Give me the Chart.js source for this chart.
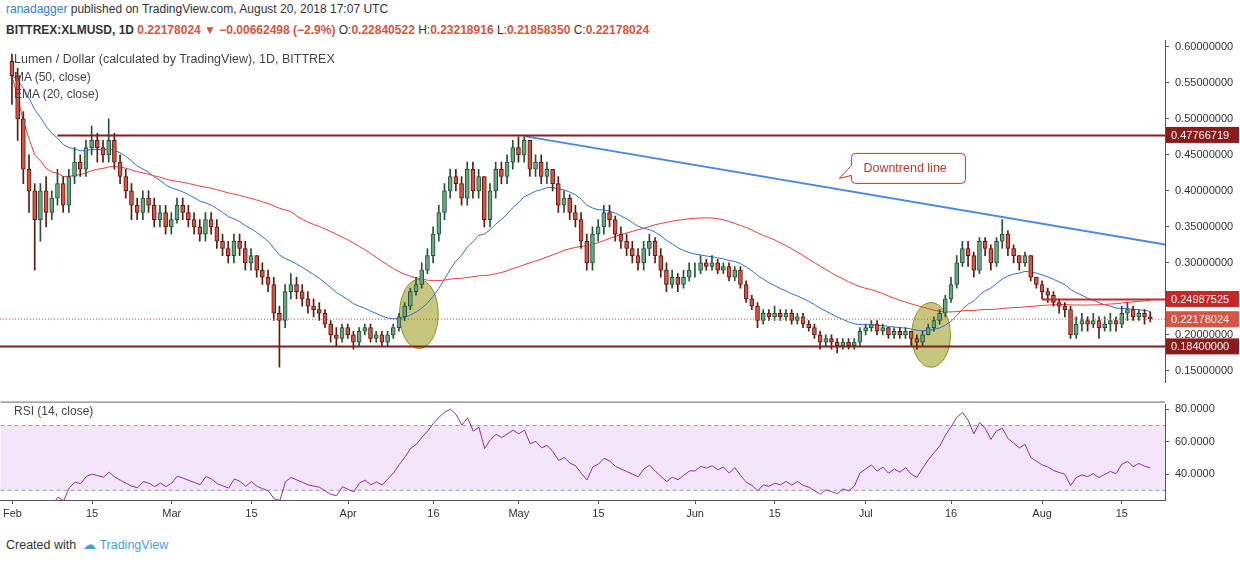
<!DOCTYPE html>
<html>
<head>
<meta charset="utf-8">
<script src="https://cdn.jsdelivr.net/npm/chart.js@4.4.0/dist/chart.umd.min.js"></script>
<style>
  body { margin: 0; width: 1240px; height: 562px; background: #fff; font-family: Arial, "Liberation Sans", sans-serif; position: relative; overflow: hidden; }
  .txt { position: absolute; font-size: 12px; color: #333; white-space: nowrap; }
  .red { color: #d75442; }
  canvas { position: absolute; left: 0; }
</style>
</head>
<body>
<div class="txt" style="left:6px;top:2px;"><span style="color:#2d7fd6">ranadagger</span> published on TradingView.com, August 20, 2018 17:07 UTC</div>
<div class="txt" style="left:6px;top:23px;font-weight:bold;">BITTREX:XLMUSD, 1D <span class="red">0.22178024 ▼ −0.00662498 (−2.9%)</span> <span style="font-weight:normal">O:</span><span class="red">0.22840522</span> <span style="font-weight:normal">H:</span><span class="red">0.23218916</span> <span style="font-weight:normal">L:</span><span class="red">0.21858350</span> <span style="font-weight:normal">C:</span><span class="red">0.22178024</span></div>
<canvas id="main" width="1240" height="395" style="top:0"></canvas>
<canvas id="rsi" width="1240" height="135" style="top:392px"></canvas>
<div class="txt" style="left:14px;top:52px;font-size:12.5px;color:#444;">Lumen / Dollar (calculated by TradingView), 1D, BITTREX</div>
<div class="txt" style="left:14px;top:70px;color:#444;">MA (50, close)</div>
<div class="txt" style="left:14px;top:87px;color:#444;">EMA (20, close)</div>
<div class="txt" style="left:14px;top:404px;color:#444;">RSI (14, close)</div>
<div class="txt" style="left:6px;top:537px;color:#333;font-size:12.5px;">Created with &nbsp;<span style="color:#4a9ee0">&#9729;</span> <span style="color:#4a9ee0">TradingView</span></div>
<script>
// daily candles Feb 1 .. Aug 20 2018, open = previous close
const firstOpen = 0.58;
const closes = [
  0.56,0.50,0.43,0.40,0.36,0.40,0.37,0.39,0.41,0.38,0.42,0.44,0.43,0.46,0.47,0.46,0.45,0.47,0.44,0.42,0.40,0.38,0.37,0.39,0.38,0.36,0.37,0.35,
  0.36,0.38,0.37,0.36,0.35,0.34,0.36,0.35,0.33,0.32,0.31,0.33,0.32,0.30,0.31,0.29,0.28,0.27,0.23,0.22,0.26,0.27,0.26,0.25,0.24,0.235,0.23,0.215,0.20,0.195,0.21,
  0.20,0.19,0.205,0.21,0.195,0.20,0.19,0.20,0.21,0.225,0.24,0.26,0.27,0.29,0.31,0.34,0.37,0.40,0.42,0.41,0.39,0.43,0.40,0.42,0.36,0.40,0.43,0.42,0.44,0.46,
  0.45,0.47,0.43,0.44,0.42,0.43,0.41,0.38,0.39,0.37,0.36,0.33,0.30,0.34,0.35,0.37,0.36,0.34,0.33,0.32,0.31,0.30,0.32,0.33,0.31,0.29,0.27,0.28,0.27,0.28,0.29,
  0.29,0.30,0.295,0.30,0.29,0.295,0.28,0.29,0.27,0.25,0.24,0.22,0.23,0.225,0.23,0.225,0.23,0.22,0.225,0.215,0.21,0.20,0.19,0.195,0.19,0.185,0.19,0.185,0.19,0.205,
  0.21,0.215,0.205,0.21,0.20,0.205,0.20,0.205,0.195,0.19,0.20,0.21,0.22,0.23,0.25,0.27,0.30,0.32,0.31,0.29,0.33,0.32,0.30,0.33,0.34,0.32,0.31,0.30,0.31,0.28,0.27,
  0.26,0.255,0.245,0.24,0.235,0.20,0.215,0.22,0.215,0.22,0.21,0.215,0.22,0.215,0.23,0.235,0.225,0.23,0.225,0.222
];
const highs = [
  0.59,0.57,0.51,0.45,0.41,0.41,0.42,0.40,0.43,0.42,0.43,0.46,0.45,0.47,0.49,0.48,0.47,0.50,0.48,0.45,0.43,0.41,0.39,0.40,0.40,0.39,0.38,0.38,
  0.37,0.39,0.39,0.38,0.37,0.36,0.37,0.37,0.36,0.34,0.33,0.34,0.34,0.33,0.32,0.31,0.30,0.29,0.28,0.24,0.27,0.285,0.28,0.27,0.26,0.25,0.245,0.235,0.22,0.21,0.215,
  0.215,0.205,0.21,0.215,0.215,0.205,0.205,0.205,0.215,0.23,0.245,0.265,0.28,0.30,0.32,0.35,0.38,0.41,0.43,0.43,0.42,0.44,0.44,0.43,0.42,0.41,0.44,0.44,0.45,0.47,
  0.475,0.475,0.47,0.45,0.45,0.44,0.43,0.42,0.40,0.395,0.38,0.37,0.34,0.35,0.36,0.38,0.38,0.365,0.35,0.34,0.33,0.32,0.33,0.34,0.335,0.32,0.30,0.29,0.285,0.29,0.30,
  0.30,0.31,0.305,0.31,0.305,0.30,0.30,0.295,0.295,0.275,0.255,0.245,0.235,0.235,0.24,0.235,0.235,0.235,0.23,0.23,0.22,0.215,0.205,0.20,0.20,0.195,0.195,0.195,0.195,0.21,
  0.215,0.22,0.22,0.215,0.21,0.21,0.21,0.21,0.205,0.20,0.205,0.215,0.225,0.235,0.255,0.28,0.31,0.33,0.33,0.315,0.335,0.335,0.325,0.335,0.36,0.345,0.325,0.31,0.315,0.31,0.28,
  0.275,0.265,0.26,0.25,0.245,0.24,0.225,0.23,0.225,0.23,0.225,0.225,0.23,0.225,0.24,0.245,0.24,0.235,0.235,0.232
];
const lows = [
  0.52,0.47,0.41,0.37,0.29,0.33,0.35,0.36,0.38,0.37,0.37,0.41,0.42,0.42,0.45,0.44,0.44,0.44,0.43,0.41,0.39,0.36,0.36,0.36,0.37,0.35,0.35,0.34,
  0.34,0.355,0.36,0.35,0.34,0.33,0.33,0.34,0.32,0.31,0.30,0.30,0.31,0.29,0.29,0.28,0.27,0.26,0.22,0.155,0.21,0.25,0.25,0.24,0.23,0.225,0.22,0.21,0.19,0.185,0.19,
  0.195,0.18,0.185,0.20,0.19,0.19,0.185,0.185,0.195,0.205,0.22,0.235,0.255,0.265,0.285,0.30,0.33,0.36,0.39,0.40,0.38,0.38,0.39,0.39,0.35,0.35,0.39,0.41,0.41,0.43,
  0.44,0.44,0.42,0.42,0.41,0.41,0.40,0.37,0.37,0.36,0.35,0.32,0.29,0.29,0.33,0.34,0.35,0.33,0.32,0.31,0.30,0.29,0.29,0.31,0.30,0.28,0.26,0.265,0.26,0.265,0.275,
  0.28,0.285,0.29,0.29,0.285,0.285,0.275,0.275,0.265,0.245,0.235,0.21,0.215,0.22,0.22,0.22,0.22,0.215,0.215,0.21,0.205,0.195,0.18,0.185,0.18,0.175,0.18,0.18,0.18,0.185,
  0.20,0.205,0.20,0.20,0.195,0.195,0.195,0.195,0.185,0.18,0.185,0.20,0.205,0.215,0.225,0.245,0.265,0.295,0.295,0.28,0.285,0.31,0.29,0.295,0.32,0.31,0.30,0.29,0.295,0.275,0.265,
  0.25,0.245,0.24,0.23,0.225,0.195,0.195,0.205,0.205,0.21,0.195,0.205,0.205,0.205,0.21,0.22,0.22,0.22,0.215,0.218
];
const priceTicks = [0.15,0.20,0.25,0.30,0.35,0.40,0.45,0.50,0.55,0.60];
const rsiTicks = [40,60,80];
const dateTicks = [[0,'Feb'],[14,'15'],[28,'Mar'],[42,'15'],[59,'Apr'],[74,'16'],[89,'May'],[103,'15'],[120,'Jun'],[134,'15'],[150,'Jul'],[165,'16'],[181,'Aug'],[195,'15']];
const levels = [
  {y:0.47766719, from:8,   bg:'#8b1a1a', line:'#8b1a1a', w:2},
  {y:0.24987525, from:181, bg:'#c62828', line:'#c62828', w:2},
  {y:0.18400000, from:-3,  bg:'#8b1a1a', line:'#8b1a1a', w:2}
];
const lastPrice = 0.22178024;
const trend = [{x:90, y:0.476}, {x:203, y:0.325}];
const ellipses = [{x:71.5, y:0.229, rx:3.4, ry:0.048}, {x:161.5, y:0.2, rx:3.4, ry:0.045}];

const X_MIN = -2.1, X_MAX = 202.6;
const opens = closes.map((c, i) => i === 0 ? firstOpen : closes[i - 1]);
const up = closes.map((c, i) => c >= opens[i]);

// indicators
const ma50 = closes.map((c, i) => {
  const s = closes.slice(Math.max(0, i - 49), i + 1);
  return {x:i, y:s.reduce((a, b) => a + b, 0) / s.length};
});
let e = closes[0];
const ema20 = closes.map((c, i) => { e = i === 0 ? c : e + (c - e) * 2 / 21; return {x:i, y:e}; });
let ag = 0, al = 0;
const rsi = [];
for (let i = 1; i < closes.length; i++) {
  const d = closes[i] - closes[i - 1];
  const g = Math.max(d, 0), l = Math.max(-d, 0);
  if (i <= 14) { ag += g / 14; al += l / 14; } else { ag = (ag * 13 + g) / 14; al = (al * 13 + l) / 14; }
  rsi.push({x:i, y: al === 0 ? 70 : 100 - 100 / (1 + ag / al)});
}

const annot = {
  id: 'annot',
  beforeDatasetsDraw(chart) {
    const {ctx, scales: {x, y}} = chart;
    ctx.save();
    ellipses.forEach(el => {
      const cx = x.getPixelForValue(el.x), cy = y.getPixelForValue(el.y);
      const rx = x.getPixelForValue(el.x + el.rx) - cx, ry = cy - y.getPixelForValue(el.y + el.ry);
      ctx.beginPath(); ctx.ellipse(cx, cy, rx, ry, 0, 0, Math.PI * 2);
      ctx.fillStyle = 'rgba(160,160,40,0.6)'; ctx.fill();
      ctx.strokeStyle = '#909020'; ctx.lineWidth = 1; ctx.stroke();
    });
    ctx.restore();
  },
  afterDatasetsDraw(chart) {
    const {ctx, chartArea: a, scales: {x, y}} = chart;
    ctx.save();
    levels.forEach(lv => {
      const py = Math.round(y.getPixelForValue(lv.y)) + 0.5;
      ctx.strokeStyle = lv.line; ctx.lineWidth = lv.w;
      ctx.beginPath(); ctx.moveTo(x.getPixelForValue(lv.from), py); ctx.lineTo(a.right, py); ctx.stroke();
    });
    const lp = y.getPixelForValue(lastPrice);
    ctx.setLineDash([1, 2]); ctx.strokeStyle = '#d75442'; ctx.lineWidth = 1;
    ctx.beginPath(); ctx.moveTo(a.left, lp); ctx.lineTo(a.right, lp); ctx.stroke();
    ctx.setLineDash([]);
    // callout
    const bx = x.getPixelForValue(147.5), by = y.getPixelForValue(0.452), bw = 114, bh = 30;
    ctx.fillStyle = '#fff'; ctx.strokeStyle = '#c0392b'; ctx.lineWidth = 1;
    ctx.beginPath();
    ctx.moveTo(bx + 4, by); ctx.lineTo(bx + bw - 4, by); ctx.quadraticCurveTo(bx + bw, by, bx + bw, by + 4);
    ctx.lineTo(bx + bw, by + bh - 4); ctx.quadraticCurveTo(bx + bw, by + bh, bx + bw - 4, by + bh);
    ctx.lineTo(bx + 4, by + bh); ctx.quadraticCurveTo(bx, by + bh, bx, by + bh - 4);
    ctx.lineTo(bx, by + 22); ctx.lineTo(bx - 12, by + 25); ctx.lineTo(bx, by + 12);
    ctx.lineTo(bx, by + 4); ctx.quadraticCurveTo(bx, by, bx + 4, by);
    ctx.fill(); ctx.stroke();
    ctx.fillStyle = '#c0392b'; ctx.font = '12.5px Arial'; ctx.textBaseline = 'middle';
    ctx.fillText('Downtrend line', bx + 12, by + bh / 2);
    ctx.font = '11px Arial';
    const tag = (v, bg) => {
      const py = y.getPixelForValue(v);
      ctx.fillStyle = bg; ctx.fillRect(a.right + 1, py - 8, 73, 16);
      ctx.fillStyle = '#fff'; ctx.fillText(v.toFixed(8), a.right + 6, py + 1);
    };
    tag(levels[0].y, levels[0].bg); tag(levels[1].y, levels[1].bg); tag(lastPrice, '#d75442'); tag(levels[2].y, levels[2].bg);
    ctx.restore();
  }
};

const fixedRight = {afterFit(s) { s.width = 75; }};
new Chart(document.getElementById('main'), {
  data: {
    datasets: [
      {type:'line', data:ma50, borderColor:'#ef3b3b', borderWidth:1, pointRadius:0, order:3},
      {type:'line', data:ema20, borderColor:'#2f6fdc', borderWidth:1, pointRadius:0, order:3},
      {type:'line', data:trend, borderColor:'#4a86e8', borderWidth:2, pointRadius:0, order:0},
      {type:'bar', data:closes.map((c, i) => ({x:i, y:[lows[i], highs[i]]})), barThickness:1,
       backgroundColor: up.map(u => u ? '#225437' : '#5b1a13'), order:2},
      {type:'bar', data:closes.map((c, i) => ({x:i, y:[opens[i], c]})), barThickness:4,
       backgroundColor: up.map(u => u ? '#6ba583' : '#d75442'),
       borderColor: up.map(u => u ? '#225437' : '#5b1a13'), borderWidth:1, borderSkipped:false, order:1}
    ]
  },
  options: {
    responsive:false, animation:false, events:[],
    layout:{padding:{top:40}},
    plugins:{legend:{display:false}, tooltip:{enabled:false}},
    datasets:{bar:{grouped:false}},
    scales:{
      x:{type:'linear', min:X_MIN, max:X_MAX, display:false, offset:false, grid:{offset:false}},
      y:{position:'right', min:0.134, max:0.6095, ...fixedRight,
         afterBuildTicks(s) { s.ticks = priceTicks.map(v => ({value:v})); },
         ticks:{callback:v => v.toFixed(8), color:'#333', font:{size:11, family:'Arial'}, padding:6},
         grid:{drawOnChartArea:false, color:'#555', tickLength:4},
         border:{color:'#555'}}
    }
  },
  plugins:[annot]
});

const rsiBand = {
  id: 'band',
  beforeDatasetsDraw(chart) {
    const {ctx, chartArea: a, scales: {y}} = chart;
    const t = y.getPixelForValue(70), b = y.getPixelForValue(30);
    ctx.save();
    ctx.fillStyle = '#f3e6fb'; ctx.fillRect(a.left, t, a.right - a.left, b - t);
    ctx.setLineDash([4, 3]); ctx.strokeStyle = '#999'; ctx.lineWidth = 1;
    [t, b].forEach(p => { ctx.beginPath(); ctx.moveTo(a.left, p); ctx.lineTo(a.right, p); ctx.stroke(); });
    ctx.setLineDash([]); ctx.strokeStyle = '#666';
    ctx.beginPath(); ctx.moveTo(a.left, a.top - 2.5); ctx.lineTo(a.right, a.top - 2.5); ctx.stroke();
    ctx.restore();
  }
};
new Chart(document.getElementById('rsi'), {
  type:'line',
  data:{datasets:[{data:rsi, borderColor:'#9c27b0', borderWidth:1, pointRadius:0}]},
  options:{
    responsive:false, animation:false, events:[],
    layout:{padding:{top:4}},
    plugins:{legend:{display:false}, tooltip:{enabled:false}},
    scales:{
      x:{type:'linear', min:X_MIN, max:X_MAX, afterFit(s) { s.height = 27; },
         afterBuildTicks(s) { s.ticks = dateTicks.map(d => ({value:d[0]})); },
         ticks:{callback:v => (dateTicks.find(d => d[0] === v) || [0, ''])[1], color:'#333', font:{size:11, family:'Arial'}, maxRotation:0, autoSkip:false},
         grid:{drawOnChartArea:false, color:'#555', tickLength:4}, border:{color:'#555'}},
      y:{position:'right', min:24, max:83, ...fixedRight,
         afterBuildTicks(s) { s.ticks = rsiTicks.map(v => ({value:v})); },
         ticks:{callback:v => v.toFixed(4), color:'#333', font:{size:11, family:'Arial'}, padding:6},
         grid:{drawOnChartArea:false, color:'#555', tickLength:4}, border:{color:'#555'}}
    }
  },
  plugins:[rsiBand]
});
</script>
</body>
</html>
